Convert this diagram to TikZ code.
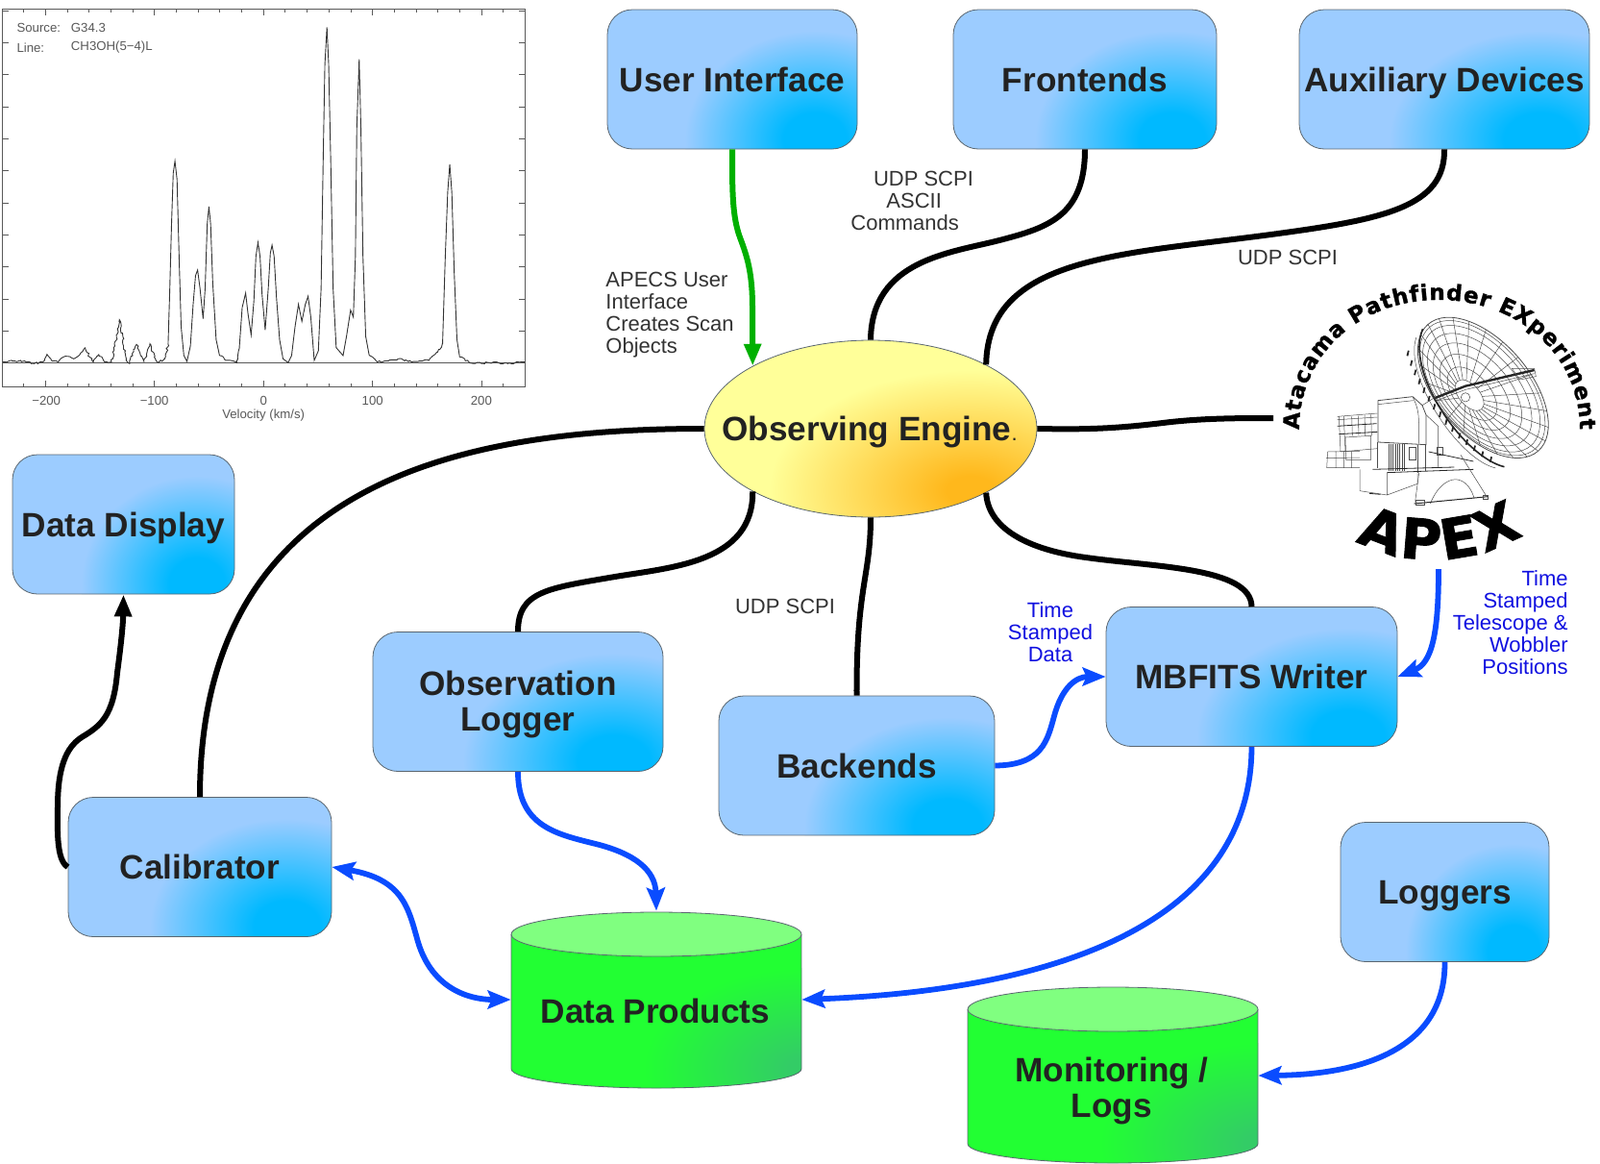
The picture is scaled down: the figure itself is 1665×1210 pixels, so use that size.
\documentclass[tikz,border=0pt]{standalone}
\usepackage{fontspec}
\setmainfont{Liberation Sans}
\newfontfamily\heavyfam{DejaVu Sans Bold}[FakeBold=1.2]
\newfontfamily\heavierfam{DejaVu Sans Bold}[FakeBold=1.5]
\usetikzlibrary{arrows.meta,shapes.geometric,decorations.text,decorations.pathmorphing}
\definecolor{skylight}{HTML}{9CCCFF}
\definecolor{skydeep}{HTML}{00B9FF}
\definecolor{edgegray}{HTML}{5A6670}
\definecolor{inktext}{HTML}{222222}
\definecolor{labeltext}{HTML}{333333}
\definecolor{wireblue}{HTML}{0A4CFF}
\definecolor{labelblue}{HTML}{1010E0}
\definecolor{wiregreen}{HTML}{00B000}
\definecolor{paleyellow}{HTML}{FFFF99}
\definecolor{deeporange}{HTML}{FFB81C}
\definecolor{cylgreen}{HTML}{22FF33}
\definecolor{cyldeep}{HTML}{33CC66}
\definecolor{cyltop}{HTML}{80FF80}
\pgfdeclareradialshading{boxglow}{\pgfpointorigin}{color(0bp)=(skydeep); color(6bp)=(skydeep); color(25bp)=(skylight); color(50bp)=(skylight)}
\pgfdeclareradialshading{engineglow}{\pgfpointorigin}{color(0bp)=(deeporange); color(3bp)=(deeporange); color(25bp)=(paleyellow); color(50bp)=(paleyellow)}
\pgfdeclareradialshading{cylglow}{\pgfpointorigin}{color(0bp)=(cyldeep); color(3bp)=(cyldeep); color(25bp)=(cylgreen); color(50bp)=(cylgreen)}
\newcommand{\arcfont}{\heavyfam\fontsize{11.5}{12}\selectfont}
\newcommand{\bigapexfont}{\heavierfam\fontsize{29}{30}\selectfont}
\tikzset{
  bluebox/.style={rectangle,rounded corners=13pt,draw=edgegray,line width=.4pt,inner sep=0pt,
    font=\bfseries\fontsize{17.6}{18.5}\selectfont,text=inktext,align=center},
  engine/.style={ellipse,draw=edgegray,line width=.4pt,inner sep=0pt},
  boldtext/.style={font=\bfseries\fontsize{17.6}{18.5}\selectfont,text=inktext,align=center},
  cylbody/.style={draw=edgegray,line width=.4pt},
  cyltopface/.style={draw=edgegray,line width=.4pt,fill=cyltop},
  anchorbox/.style={rectangle,inner sep=0pt},
  note/.style={font=\fontsize{11}{11.5}\selectfont,text=labeltext,inner sep=0pt},
  bluenote/.style={font=\fontsize{11}{11.5}\selectfont,text=labelblue,inner sep=0pt},
  blackwire/.style={draw=black,line width=3pt},
  bluewire/.style={draw=wireblue,line width=2.9pt},
  greenwire/.style={draw=wiregreen,line width=3pt},
  blacktip/.style={-{Triangle[length=11.5pt,width=8.5pt]}},
  greentip/.style={-{Triangle[length=11.5pt,width=8.5pt]}},
  bluetip/.style={-{Stealth[length=12pt,width=9.5pt,inset=2pt]}},
  bluetips/.style={{Stealth[length=12pt,width=9.5pt,inset=2pt]}-{Stealth[length=12pt,width=9.5pt,inset=2pt]}},
  plotline/.style={draw=black!80,line width=.45pt},
  noisy/.style={decoration={random steps,segment length=1.1pt,amplitude=.55pt}},
  plotframe/.style={draw=black!65,line width=.4pt},
  plottext/.style={font=\fontsize{6.6}{7}\selectfont,text=black!65,inner sep=0pt},
  wireart/.style={draw=black!70,line width=.25pt},
  wireheavy/.style={draw=black!85,line width=.6pt},
}
% name, centre x, centre y, width, height (picture pixels), text
\newcommand{\glowbox}[6]{%
  \pgfmathsetmacro{\bxa}{#2-#4/2}\pgfmathsetmacro{\bxb}{#2+#4/2}%
  \pgfmathsetmacro{\bya}{#3-#5/2}\pgfmathsetmacro{\byb}{#3+#5/2}%
  \pgfmathsetmacro{\gcx}{\bxb-0.17*#4}\pgfmathsetmacro{\gcy}{\byb-11}%
  \pgfmathsetmacro{\grx}{0.52*#4}%
  \pgfmathsetmacro{\bwpt}{#4/2}\pgfmathsetmacro{\bhpt}{#5/2}%
  \begin{scope}
    \clip[rounded corners=13pt] (\bxa,\bya) rectangle (\bxb,\byb);
    \fill[skylight] (\bxa,\bya) rectangle (\bxb,\byb);
    \shade[shading=boxglow] (\gcx,\gcy) ellipse [x radius=\grx,y radius=112];
  \end{scope}
  \node[bluebox,minimum width=\bwpt pt,minimum height=\bhpt pt] (#1) at (#2,#3) {#6};
}
\begin{document}
\begin{tikzpicture}[x=0.5pt,y=-0.5pt]
\useasboundingbox (0,0) rectangle (1665,1210);

% ---------- spectrum ----------
\begin{scope}[xscale=0.357,yscale=0.3333]
  \draw[plotframe] (8,28) rectangle (1530,1208);
  \foreach \k in {-11,...,11}{
    \pgfmathsetmacro{\tx}{768+63.55*\k}
    \pgfmathtruncatemacro{\ism}{mod(abs(\k),5)==0}
    \pgfmathsetmacro{\tl}{\ism==1 ? 20 : 11}
    \draw[plotframe] (\tx,28) -- ++(0,\tl);
    \draw[plotframe] (\tx,1208) -- ++(0,-\tl);
  }
  \foreach \k in {0,...,11}{
    \pgfmathsetmacro{\ty}{33+100*\k}
    \draw[plotframe] (8,\ty) -- ++(18,0);
    \draw[plotframe] (1530,\ty) -- ++(-18,0);
  }
  \draw[plotframe] (8,1133) -- (1530,1133);
  \draw[plotline,noisy,decorate] (8,1130)--(60,1125)--(100,1135)--(125,1130)--(137,1106)--(150,1125)--(170,1130)--(190,1112)--(215,1120)--(232,1108)--(248,1086)--(262,1115)--(272,1130)--(288,1107)--(305,1130)--(325,1130)--(335,1080)--(348,998)--(358,1060)--(368,1125)--(378,1135)--(385,1105)--(398,1075)--(410,1110)--(420,1130)--(437,1073)--(450,1115)--(462,1132)--(480,1120)--(490,1075);
  \draw[plotline] (490,1075)--(495,900)--(500,700)--(505,540)--(510,503)--(516,560)--(522,800)--(528,1020)--(536,1110)--(545,1128)--(555,1080)--(563,950)--(570,860)--(576,843)--(583,900)--(592,995)--(598,900)--(604,700)--(609,645)--(614,700)--(620,880)--(630,1060)--(640,1110);
  \draw[plotline,noisy,decorate] (640,1110)--(660,1125)--(690,1132)--(698,1080);
  \draw[plotline] (698,1080)--(706,960)--(716,915)--(723,980)--(732,1045)--(740,940)--(746,800)--(752,757)--(758,800)--(764,920)--(773,1030)--(782,900)--(788,790)--(793,765)--(799,800)--(806,930)--(815,1060)--(825,1120)--(840,1132)--(850,1110)--(860,1020)--(870,950)--(880,1003)--(890,950)--(898,925)--(906,990)--(916,1125)--(928,1095)--(936,900)--(942,500)--(947,200)--(953,85)--(958,200)--(964,500)--(971,900)--(980,1085)--(1000,1110)--(1010,1050)--(1022,968)--(1030,990)--(1036,800)--(1040,400)--(1047,185)--(1052,400)--(1058,800)--(1066,1050)--(1076,1108);
  \draw[plotline,noisy,decorate] (1076,1108)--(1100,1130)--(1160,1120)--(1200,1130)--(1250,1125)--(1275,1100)--(1290,1075);
  \draw[plotline] (1290,1075)--(1298,800)--(1305,600)--(1311,513)--(1317,600)--(1324,850)--(1332,1060)--(1340,1115);
  \draw[plotline,noisy,decorate] (1340,1115)--(1380,1135)--(1440,1130)--(1480,1135)--(1530,1130);
  \node[plottext,anchor=west] (srckey) at (48,88) {Source:};
  \node[plottext,anchor=west] (srcval) at (206,88) {G34.3};
  \node[plottext,anchor=west] (linekey) at (48,148) {Line:};
  \node[plottext,anchor=west] (lineval) at (206,148) {CH3OH(5−4)L};
  \node[plottext] (xa) at (135,1250) {−200};
  \node[plottext] (xb) at (450,1250) {−100};
  \node[plottext] (xc) at (768,1250) {0};
  \node[plottext] (xd) at (1086,1250) {100};
  \node[plottext] (xe) at (1403,1250) {200};
  \node[plottext] (xlabel) at (768,1296) {Velocity (km/s)};
\end{scope}

% ---------- antenna ----------
\begin{scope}[shift={(1280,270)},scale=1/3]
  \begin{scope}[shift={(790,400)},rotate=-49]
    \draw[wireart,line width=.4pt,fill=white] (0,0) ellipse [x radius=262,y radius=145];
    \foreach \t in {.22,.38,.54,.68,.80,.90,.96}{
      \draw[wireart] ({-13*(1-\t)},{61*(1-\t)}) ellipse [x radius={262*\t},y radius={145*\t}];
    }
    \foreach \a in {0,15,...,345}{
      \draw[wireart] ({-13*.78+262*.22*cos(\a)},{61*.78+145*.22*sin(\a)}) -- ({262*cos(\a)},{145*sin(\a)});
    }
    \draw[wireheavy,line width=.8pt] (-262,22) .. controls (-200,150) and (120,190) .. (230,112);
    \draw[wireart] (-255,55) .. controls (-190,165) and (120,205) .. (215,135);
    \foreach \a in {-240,-210,...,180}{
      \draw[wireheavy,line width=.9pt] (\a,{90+60*(1-(\a/262)*(\a/262))}) -- ++(10,14);
    }
  \end{scope}
  \draw[wireheavy,line width=1.2pt] (640,432) -- (735,395) -- (950,345);
  \draw[wireart] (640,442) -- (735,406) -- (950,356);
  \draw[wireart] (880,340) -- (950,340) -- (955,365) -- (905,375) -- cycle;
  \draw[wireart] (735,430) circle [radius=14];
  % cabin
  \draw[wireart,line width=.4pt,fill=white] (462,440) -- (570,428) -- (600,455) -- (612,485) -- (612,578) -- (462,570) -- cycle;
  \draw[wireart] (570,428) .. controls (590,470) and (590,480) .. (590,575);
  \draw[wireart] (462,452) -- (572,440);
  \draw[wireart] (612,485) -- (650,520) -- (650,650);
  \draw[wireart] (600,455) -- (640,430);
  % left platforms
  \draw[wireart] (335,490) -- (460,480) (335,500) -- (460,492) (340,490) -- (345,600) (355,490) -- (360,600) (345,600) -- (460,590);
  \draw[wireart] (360,555) -- (440,550) -- (440,625) -- (362,625) -- cycle;
  \draw[wireart] (380,490) -- (382,550) (400,488) -- (402,550) (420,486) -- (422,550) (440,484) -- (442,550);
  \draw[wireart] (305,600) -- (405,598) (300,620) -- (405,618) (302,650) -- (405,650) (305,600) -- (302,650) (330,598) -- (330,650) (355,598) -- (355,650) (380,600) -- (380,650);
  \draw[wireheavy,line width=.4pt] (335,520) -- (458,512) (340,545) -- (460,538);
  % machinery
  \foreach \x in {495,502,509,516,523,530,537,544}{\draw[wireart] (\x,575) -- (\x,660);}
  \draw[wireart] (460,570) -- (460,650) (585,580) -- (585,665) (610,580) -- (610,660);
  \draw[wireart] (558,585) rectangle (580,625) (645,585) rectangle (665,610);
  \draw[wireheavy,line width=.4pt] (445,655) -- (700,648) (490,665) -- (760,655) (620,600) -- (760,630);
  % lower block and pedestal
  \draw[wireart] (405,655) -- (405,722) -- (490,735) -- (585,700) -- (585,668) (490,665) -- (490,735);
  \draw[wireheavy,line width=.4pt] (435,730) -- (470,733);
  \draw[wireheavy,line width=.5pt] (575,762) -- (805,740);
  \draw[wireart] (590,665) -- (578,755) (720,610) -- (800,738);
  \draw[wireart] (625,762) .. controls (650,700) and (690,680) .. (715,688) .. controls (740,695) and (755,720) .. (762,745);
  \draw[wireart] (580,752) rectangle (606,766) (790,735) rectangle (806,747);
\end{scope}
\path[decorate,decoration={text along path,text={|\arcfont|Atacama Pathfinder EXperiment},text align={fit to path}}]
  (1352,447) .. controls (1352,367) and (1417,312) .. (1497,312) .. controls (1577,312) and (1644,367) .. (1644,447);
\path[decorate,decoration={text along path,text={|\bigapexfont|APEX},text align={fit to path}}]
  (1411,562) .. controls (1460,590) and (1530,590) .. (1585,556);

% ---------- boxes ----------
\glowbox{ui}{762}{82.5}{260}{145}{User Interface}
\glowbox{fe}{1129}{82.5}{274}{145}{Frontends}
\glowbox{aux}{1503}{82.5}{302}{145}{\rule{0pt}{16.4pt}Auxiliary Devices}
\glowbox{dd}{128.5}{545.5}{231}{145}{\rule{0pt}{16.4pt}Data Display}
\glowbox{ol}{539}{730}{302}{145}{\rule{0pt}{16pt}Observation\\Logger}
\glowbox{be}{891.5}{796.5}{287}{145}{Backends}
\glowbox{mb}{1302.5}{704}{303}{145}{MBFITS Writer}
\glowbox{cal}{208}{902}{274}{145}{Calibrator}
\glowbox{lg}{1503.5}{928}{217}{145}{\rule{0pt}{16.4pt}Loggers}

% ---------- engine ----------
\begin{scope}
  \clip (906,446) ellipse [x radius=173,y radius=92];
  \fill[paleyellow] (733,354) rectangle (1079,538);
  \shade[shading=engineglow] (1010,510) ellipse [x radius=210,y radius=125];
\end{scope}
\node[engine,minimum width=173pt,minimum height=92pt] (eng) at (906,446) {};
\node[boldtext] (engtext) at (905,446) {\rule{0pt}{16.4pt}Observing Engine{\mdseries\fontsize{11}{11}\selectfont.}};

% ---------- cylinders ----------
\begin{scope}
  \clip (532,972) -- (532,1112) .. controls (532,1123) and (600,1132) .. (683,1132) .. controls (766,1132) and (834,1123) .. (834,1112) -- (834,972) -- cycle;
  \fill[cylgreen] (532,972) rectangle (834,1132);
  \shade[shading=cylglow] (840,1112) ellipse [x radius=170,y radius=105];
\end{scope}
\draw[cylbody] (532,972) -- (532,1112) .. controls (532,1123) and (600,1132) .. (683,1132) .. controls (766,1132) and (834,1123) .. (834,1112) -- (834,972);
\draw[cyltopface] (683,972) ellipse [x radius=151,y radius=23];
\node[anchorbox,minimum width=151pt,minimum height=92pt] (dp) at (683,1040) {};
\node[boldtext] (dptext) at (682,1052) {Data Products};

\begin{scope}
  \clip (1007,1050) -- (1007,1190) .. controls (1007,1201) and (1075,1210) .. (1158,1210) .. controls (1241,1210) and (1309,1201) .. (1309,1190) -- (1309,1050) -- cycle;
  \fill[cylgreen] (1007,1050) rectangle (1309,1210);
  \shade[shading=cylglow] (1315,1190) ellipse [x radius=170,y radius=105];
\end{scope}
\draw[cylbody] (1007,1050) -- (1007,1190) .. controls (1007,1201) and (1075,1210) .. (1158,1210) .. controls (1241,1210) and (1309,1201) .. (1309,1190) -- (1309,1050);
\draw[cyltopface] (1158,1050) ellipse [x radius=151,y radius=23];
\node[anchorbox,minimum width=151pt,minimum height=91pt] (mon) at (1158,1119) {};
\node[boldtext] (montext) at (1157,1132) {\rule{0pt}{16pt}Monitoring /\\Logs};

% ---------- free ends at the logo ----------
\coordinate (logoin) at (1325,435);
\coordinate (logoout) at (1497,592);

% ---------- connectors ----------
\draw[greenwire,greentip] (ui.south) .. controls (762,200) and (762,225) .. (770,247) .. controls (778,268) and (783,285) .. (783,320) -- (eng.152.4);
\draw[blackwire] (fe.south) .. controls (1129,225) and (1090,237) .. (1040,250) .. controls (990,263) and (907,270) .. (eng.north);
\draw[blackwire] (aux.south) .. controls (1504,215) and (1440,228) .. (1330,243) .. controls (1170,265) and (1028,265) .. (eng.29.1);
\draw[blackwire] (eng.east) .. controls (1130,447) and (1160,446) .. (1210,440) .. controls (1250,435) and (1290,435) .. (logoin);
\draw[blackwire] (eng.west) .. controls (480,446) and (208,500) .. (cal.north);
\draw[blackwire] (eng.208.4) .. controls (784,585) and (700,590) .. (640,600) .. controls (570,612) and (539,615) .. (ol.north);
\draw[blackwire] (eng.south) .. controls (906,600) and (891,610) .. (be.north);
\draw[blackwire] (eng.331.6) .. controls (1028,550) and (1070,572) .. (1130,580) .. controls (1200,590) and (1302,590) .. (mb.north);
\draw[blackwire,blacktip] (cal.west) .. controls (58,895) and (60,860) .. (60,840) .. controls (60,800) and (68,778) .. (85,767) .. controls (105,755) and (118,745) .. (122,700) .. controls (126,670) and (128,650) .. (dd.south);
\draw[bluewire,bluetip] (be.east) .. controls (1085,796) and (1090,770) .. (1097,745) .. controls (1105,715) and (1120,704) .. (mb.west);
\draw[bluewire,bluetip] (logoout) .. controls (1497,660) and (1490,690) .. (mb.east);
\draw[bluewire,bluetip] (ol.south) .. controls (539,860) and (580,868) .. (620,878) .. controls (660,888) and (682,905) .. (dp.north);
\draw[bluewire,bluetips] (cal.east) .. controls (420,915) and (425,945) .. (435,980) .. controls (450,1030) and (490,1040) .. (dp.west);
\draw[bluewire,bluetip] (mb.south) .. controls (1302,960) and (1100,1030) .. (dp.east);
\draw[bluewire,bluetip] (lg.south) .. controls (1504,1090) and (1420,1118) .. (mon.east);

% ---------- labels ----------
\node[note,align=left,anchor=west] (lblcmd) at (885,208.5) {\hspace*{11.8pt}UDP SCPI\\\hspace*{18.5pt}ASCII\\Commands};
\node[note,align=left,anchor=west] (lblapecs) at (630,328) {APECS User\\Interface\\Creates Scan\\Objects};
\node[note] (lblaux) at (1340,268) {UDP SCPI};
\node[note] (lblbe) at (817,631) {UDP SCPI};
\node[bluenote,align=center] (lbltsd) at (1093,658) {Time\\Stamped\\Data};
\node[bluenote,align=right,anchor=east] (lbltst) at (1632,648) {Time\\Stamped\\Telescope \&\\Wobbler\\Positions};
\end{tikzpicture}
\end{document}
